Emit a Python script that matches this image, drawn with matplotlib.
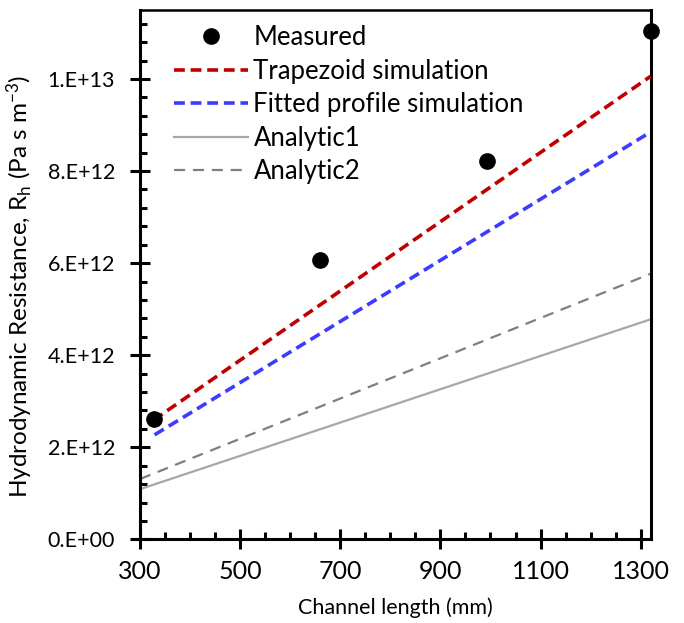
import matplotlib
matplotlib.use("Agg")
import matplotlib.pyplot as plt
from matplotlib.ticker import MultipleLocator, FuncFormatter, FixedLocator
import numpy as np

plt.rcParams['font.family'] = ['Lato', 'DejaVu Sans']
plt.rcParams['mathtext.fontset'] = 'custom'
plt.rcParams['mathtext.rm'] = 'Lato'
plt.rcParams['mathtext.it'] = 'Lato'

# Data
x_meas = [327, 660, 994, 1320]
measured = [2.62e12, 6.06e12, 8.21e12, 11.05e12]
x_sim = [327, 1320]
trapezoid = [2.59e12, 10.06e12]
x_fit = [329, 1320]
fitted = [2.27e12, 8.85e12]
x_an = [300, 1320]
analytic1 = [1.09e12, 4.78e12]
analytic2 = [1.31e12, 5.77e12]
x_ticks = [300, 500, 700, 900, 1100, 1300]

fig = plt.figure(figsize=(6.84, 6.23), dpi=100)
ax = fig.add_axes([0.2047, 0.1343, 0.7466, 0.8497])

ax.plot(x_sim, trapezoid, color='#C00000', lw=2.6, ls=(0, (3, 1.6)), label='Trapezoid simulation', zorder=3)
ax.plot(x_fit, fitted, color='#3C3CFF', lw=2.6, ls=(0, (3, 1.6)), label='Fitted profile simulation', zorder=3)
ax.plot(x_an, analytic1, color='#A6A6A6', lw=1.6, ls='-', label='Analytic1', zorder=2)
ax.plot(x_an, analytic2, color='#7F7F7F', lw=1.6, ls=(0, (5, 3.5)), label='Analytic2', zorder=2)
ax.plot(x_meas, measured, 'o', color='black', ms=11, ls='none', label='Measured', zorder=5, clip_on=False)

ax.set_xlim(300, 1320)
ax.set_ylim(0, 1.15e13)
ax.xaxis.set_major_locator(FixedLocator(x_ticks))
ax.xaxis.set_minor_locator(MultipleLocator(50))
ax.yaxis.set_major_locator(MultipleLocator(2e12))
ax.yaxis.set_minor_locator(MultipleLocator(4e11))

def yfmt(v, pos):
    if v == 0:
        return '0.E+00'
    e = int(np.floor(np.log10(abs(v)) + 1e-9))
    m = v / 10**e
    return f'{m:.0f}.E+{e:02d}'
ax.yaxis.set_major_formatter(FuncFormatter(yfmt))

for s in ax.spines.values():
    s.set_linewidth(2.2)
ax.spines['top'].set_linewidth(1.8)
ax.tick_params(axis='both', which='major', direction='inout', length=14, width=2.2)
ax.tick_params(axis='both', which='minor', direction='in', length=5, width=2.2)
ax.tick_params(axis='x', which='major', labelsize=18, pad=8)
ax.tick_params(axis='y', which='major', labelsize=15.5, pad=11)

ax.set_xlabel('Channel length (mm)', fontsize=15.5, labelpad=10)
ax.set_ylabel('Hydrodynamic Resistance, R$_\\mathrm{h}$ (Pa s m$^{-3}$)', fontsize=17.5)
ax.yaxis.set_label_coords(-0.205, 0.478)

handles, labels = ax.get_legend_handles_labels()
order = [4, 0, 1, 2, 3]
ax.legend([handles[i] for i in order], [labels[i] for i in order],
          loc='upper left', bbox_to_anchor=(0.036, 1.0), frameon=False,
          fontsize=18.5, handlelength=2.9, handletextpad=0.2, labelspacing=0.33,
          borderaxespad=0.2)

fig.savefig('out.png', dpi=100)
